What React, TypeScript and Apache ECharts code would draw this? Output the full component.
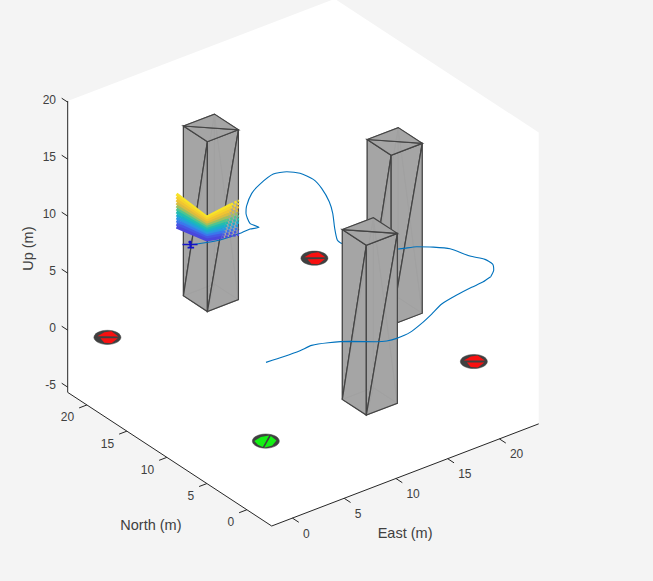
import React, { useEffect, useRef } from "react";
import * as echarts from "echarts";

const WIDTH = 653;
const HEIGHT = 581;

// Axis limits and ticks
const eastLimits = [-2, 23.8];
const northLimits = [-3.1, 22.4];
const upLimits = [-5.46, 20.1];
const eastTicks = [0, 5, 10, 15, 20];
const northTicks = [0, 5, 10, 15, 20];
const upTicks = [-5, 0, 5, 10, 15, 20];

// Buildings: south-west corner, footprint and height (m)
const buildingEast = [8.25, 18.2, 8.3];
const buildingNorth = [18.2, 8.1, -1.6];
const buildingWidth = 3;
const buildingHeight = 14.9;

// Landing pads (m)
const padEast = [-0.25, -0.25, 19.85, 19.75];
const padNorth = [-0.1, 19.7, -0.1, 19.7];
const padRadius = 1;
const redPatchA = [[-0.52, 0.58], [0.28, 0.74], [0.8, 0.54], [0.76, -0.39], [-0.03, 0.21]];
const redPatchB = [[-0.52, 0.2], [0.55, -0.6], [-0.31, -0.91], [-0.7, -0.52]];
const greenPatchA = [[-0.7, 0.53], [0.07, 0.71], [0.73, 0.53], [-0.74, -0.58], [-0.83, -0.08]];
const greenPatchB = [[0.77, 0.37], [0.71, -0.41], [0, -0.82], [-0.72, -0.72]];

// Flight path (m)
const pathEast = [-0.34, 1.24, 2.82, 4.03, 5.29, 6.74, 8.33, 9.01, 9.87, 11.24, 12.79, 14.27, 15.81, 17.56, 19.19, 20.42, 21.34, 22.15, 22.64, 22.61, 22.0, 21.47, 20.6, 19.62, 18.28, 16.7, 15.36, 15.4, 16.33, 17.61, 18.48, 19.26, 19.59, 19.34, 18.68, 17.64, 15.9, 14.53, 13.03, 12.32, 11.63, 11.81, 11.1, 10.25, 8.25, 6.45, 6.0];
const pathNorth = [-0.24, -0.36, -0.4, -0.29, -0.75, -1.58, -2.86, -3.23, -3.37, -3.26, -2.71, -2.05, -1.31, -0.92, -0.68, -0.54, -0.28, 0.39, 1.16, 2.08, 3.17, 4.97, 5.94, 6.75, 7.32, 8.8, 10.61, 11.21, 12.74, 14.64, 16.2, 18.16, 19.63, 20.97, 21.77, 22.11, 21.52, 20.78, 19.49, 18.64, 17.25, 16.35, 16.56, 16.5, 16.62, 17.21, 17.46];
const pathUp = 7;
const frontPathEnd = 17;

// UAV pose (m)
const uavEast = 6.0;
const uavNorth = 17.46;
const uavUp = 7;

// Lidar returns: three corners of each scan row (m)
const lidarEast = [8.2, 8.2, 11.3];
const lidarNorth = [22, 18.2, 18.2];
const lidarUpLeft = [5.69, 5.95, 6.22, 6.48, 6.74, 7.01, 7.27, 7.53, 7.8, 8.06, 8.33, 8.59];
const lidarUpCorner = [6.3, 6.48, 6.66, 6.85, 7.03, 7.21, 7.39, 7.57, 7.75, 7.94, 8.12, 8.3];
const lidarUpRight = [5.69, 5.96, 6.23, 6.51, 6.78, 7.05, 7.32, 7.59, 7.86, 8.14, 8.41, 8.68];
const lidarColors = ["#4a46dc", "#4558e4", "#3a78ec", "#2a98e0", "#1aaecc", "#22bdb0", "#50c490", "#9cc060", "#d8bc40", "#f0c432", "#f6d42c", "#f8e428"];

// View of the axes
const ORIGIN_X = 271.7;
const ORIGIN_Y = 526;
const EAST_DX = 10.35;
const EAST_DY = 3.96;
const NORTH_DX = 8;
const NORTH_DY = 5.24;
const UP_DY = 11.4;

const FONT = '"Liberation Sans", Arial, sans-serif';
const TEXT = "#404040";
const AXIS = "#262626";

type V3 = [number, number, number];

const project = (e: number, n: number, u: number) => {
  const a = e - eastLimits[0];
  const b = n - northLimits[0];
  return [
    ORIGIN_X + EAST_DX * a - NORTH_DX * b,
    ORIGIN_Y - EAST_DY * a - NORTH_DY * b - UP_DY * (u - upLimits[0]),
  ];
};

const pts = (api: any, list: V3[]) => list.map((p) => api.coord(project(p[0], p[1], p[2])));

const poly = (api: any, list: V3[], style: any) => ({ type: "polygon", shape: { points: pts(api, list) }, style });
const pline = (api: any, list: V3[], style: any) => ({ type: "polyline", shape: { points: pts(api, list) }, style: { fill: "none", ...style } });

const layer = (z: number, draw: (api: any) => any[]) => ({
  type: "custom",
  z,
  silent: true,
  clip: false,
  coordinateSystem: "cartesian2d",
  data: [[0, 0]],
  renderItem: (_p: any, api: any) => ({ type: "group", children: draw(api) }),
});

const label = (api: any, at: number[], dx: number, dy: number, text: string, align: string, size = 12, rotation = 0) => {
  const c = api.coord(at);
  return {
    type: "text",
    x: c[0] + dx,
    y: c[1] + dy,
    rotation,
    style: { text, fill: TEXT, font: `${size}px ${FONT}`, align, verticalAlign: "middle" },
  };
};

const backFill = "#a5a5a5";
const frontFill = "rgba(165,165,165,0.82)";
const backEdge = { stroke: "#8e8e8e", lineWidth: 1 };
const frontEdge = { stroke: "#444444", lineWidth: 1.2 };

const building = (api: any, i: number) => {
  const e0 = buildingEast[i];
  const n0 = buildingNorth[i];
  const e1 = e0 + buildingWidth;
  const n1 = n0 + buildingWidth;
  const h = buildingHeight;
  const back = { fill: backFill, ...backEdge };
  const front = { fill: frontFill, ...frontEdge };
  return [
    // bottom and the two hidden walls
    poly(api, [[e0, n0, 0], [e1, n0, 0], [e1, n1, 0]], back),
    poly(api, [[e0, n0, 0], [e1, n1, 0], [e0, n1, 0]], back),
    poly(api, [[e0, n1, 0], [e1, n1, 0], [e1, n1, h]], back),
    poly(api, [[e0, n1, 0], [e1, n1, h], [e0, n1, h]], back),
    poly(api, [[e1, n0, 0], [e1, n1, 0], [e1, n1, h]], back),
    poly(api, [[e1, n0, 0], [e1, n1, h], [e1, n0, h]], back),
    // visible walls and roof
    poly(api, [[e0, n0, h], [e0, n1, h], [e0, n1, 0]], front),
    poly(api, [[e0, n0, h], [e0, n1, 0], [e0, n0, 0]], front),
    poly(api, [[e1, n0, h], [e0, n0, h], [e0, n0, 0]], front),
    poly(api, [[e1, n0, h], [e0, n0, 0], [e1, n0, 0]], front),
    poly(api, [[e0, n1, h], [e1, n0, h], [e0, n0, h]], front),
    poly(api, [[e0, n1, h], [e1, n1, h], [e1, n0, h]], front),
  ];
};

const pad = (api: any, i: number) => {
  const c = api.coord(project(padEast[i], padNorth[i], 0));
  const rx = padRadius * Math.hypot(EAST_DX, NORTH_DX) + 0.4;
  const ry = padRadius * Math.hypot(EAST_DY, NORTH_DY) + 0.5;
  const green = i === 0;
  const patches = green ? [greenPatchA, greenPatchB] : [redPatchA, redPatchB];
  return [
    { type: "ellipse", shape: { cx: c[0], cy: c[1], rx, ry }, style: { fill: "#404040", stroke: "#404040", lineWidth: 0.5 } },
    ...patches.map((patch) =>
      poly(api, patch.map((d) => [padEast[i] + d[0], padNorth[i] + d[1], 0] as V3), { fill: green ? "#14f014" : "#f81010" }),
    ),
  ];
};

const lidar = (api: any) => {
  const out: any[] = [];
  for (let i = lidarColors.length - 1; i >= 0; i -= 1) {
    const color = lidarColors[i];
    const left: V3 = [lidarEast[0], lidarNorth[0], lidarUpLeft[i]];
    const corner: V3 = [lidarEast[1], lidarNorth[1], lidarUpCorner[i]];
    const right: V3 = [lidarEast[2], lidarNorth[2], lidarUpRight[i]];
    const f = 0.45 + (0.3 * i) / 11;
    const mid: V3 = [corner[0] + (right[0] - corner[0]) * f, corner[1], corner[2] + (right[2] - corner[2]) * f];
    out.push(pline(api, [mid, right], { stroke: color, lineWidth: 2.5, lineDash: [2.5, 1.5] }));
    out.push(pline(api, [left, corner, mid], { stroke: color, lineWidth: 3.1 }));
  }
  return out;
};

const uav = (api: any) => {
  const e = uavEast;
  const n = uavNorth;
  const u = uavUp;
  const blue = "#1212c8";
  return [
    pline(api, [[e - 0.46, n + 0.345, u], [e + 0.46, n - 0.345, u]], { stroke: blue, lineWidth: 1.4 }),
    pline(api, [[e, n, u + 0.33], [e + 0.05, n, u - 0.25]], { stroke: blue, lineWidth: 2 }),
    pline(api, [[e - 0.15, n + 0.11, u - 0.27], [e + 0.25, n - 0.19, u - 0.27]], { stroke: blue, lineWidth: 1.6 }),
    pline(api, [[e - 0.1, n + 0.08, u + 0.22], [e + 0.1, n - 0.08, u + 0.22]], { stroke: blue, lineWidth: 1.6 }),
  ];
};

const axes = (api: any) => {
  const [eMin, eMax] = eastLimits;
  const [nMin, nMax] = northLimits;
  const [uMin, uMax] = upLimits;
  const out: any[] = [
    poly(api, [[eMin, nMin, uMin], [eMax, nMin, uMin], [eMax, nMin, uMax], [eMax, nMax, uMax], [eMin, nMax, uMax], [eMin, nMax, uMin]], { fill: "#ffffff" }),
    pline(api, [[eMin, nMax, uMax], [eMin, nMax, uMin], [eMin, nMin, uMin], [eMax, nMin, uMin]], { stroke: AXIS, lineWidth: 1 }),
  ];
  eastTicks.forEach((t) => {
    out.push(pline(api, [[t, nMin, uMin], [t, nMin - 0.8, uMin]], { stroke: AXIS, lineWidth: 1 }));
    out.push(label(api, project(t, nMin, uMin), 10.5, 15.5, String(t), "left"));
  });
  northTicks.forEach((t) => {
    out.push(pline(api, [[eMin, t, uMin], [eMin - 0.75, t, uMin]], { stroke: AXIS, lineWidth: 1 }));
    out.push(label(api, project(eMin, t, uMin), -12.7, 12.5, String(t), "right"));
  });
  upTicks.forEach((t) => {
    out.push(pline(api, [[eMin, nMax, t], [eMin, nMax + 0.75, t]], { stroke: AXIS, lineWidth: 1 }));
    out.push(label(api, project(eMin, nMax, t), -11.7, -2.5, String(t), "right"));
  });
  out.push(label(api, project(10.5, nMin, uMin), 4, 56, "East (m)", "center", 14.5));
  out.push(label(api, project(eMin, 7.5, uMin), -36, 55, "North (m)", "center", 14.5));
  out.push(label(api, project(eMin, nMax, 7.5), -40, 4, "Up (m)", "center", 14.5, Math.PI / 2));
  return out;
};

const pathPoints = pathEast.map((e, i) => project(e, pathNorth[i], pathUp));

const pathSeries = (z: number, data: number[][]) => ({
  type: "line",
  z,
  silent: true,
  clip: false,
  showSymbol: false,
  symbol: "none",
  smooth: 0.2,
  data,
  lineStyle: { color: "#0072bd", width: 1.1 },
});

const option = {
  animation: false,
  backgroundColor: "#f4f4f4",
  grid: { left: 0, top: 0, width: WIDTH, height: HEIGHT, containLabel: false },
  xAxis: { type: "value", min: 0, max: WIDTH, show: false },
  yAxis: { type: "value", min: 0, max: HEIGHT, inverse: true, show: false },
  series: [
    layer(1, axes),
    layer(2, (api) => [0, 1, 2, 3].flatMap((i) => pad(api, i))),
    layer(3, (api) => building(api, 1)),
    layer(3.5, (api) => building(api, 0)),
    pathSeries(4, pathPoints.slice(frontPathEnd - 1)),
    layer(5, lidar),
    layer(6, uav),
    layer(7, (api) => building(api, 2)),
    pathSeries(8, pathPoints.slice(0, frontPathEnd)),
  ],
};

export default function App() {
  const ref = useRef<HTMLDivElement>(null);
  useEffect(() => {
    document.body.style.margin = "0";
    document.body.style.overflow = "hidden";
    const chart = echarts.init(ref.current as HTMLDivElement, undefined, { renderer: "svg" });
    chart.setOption(option as any);
    return () => chart.dispose();
  }, []);
  return <div ref={ref} style={{ position: "absolute", left: 0, top: 0, width: WIDTH, height: HEIGHT }} />;
}
